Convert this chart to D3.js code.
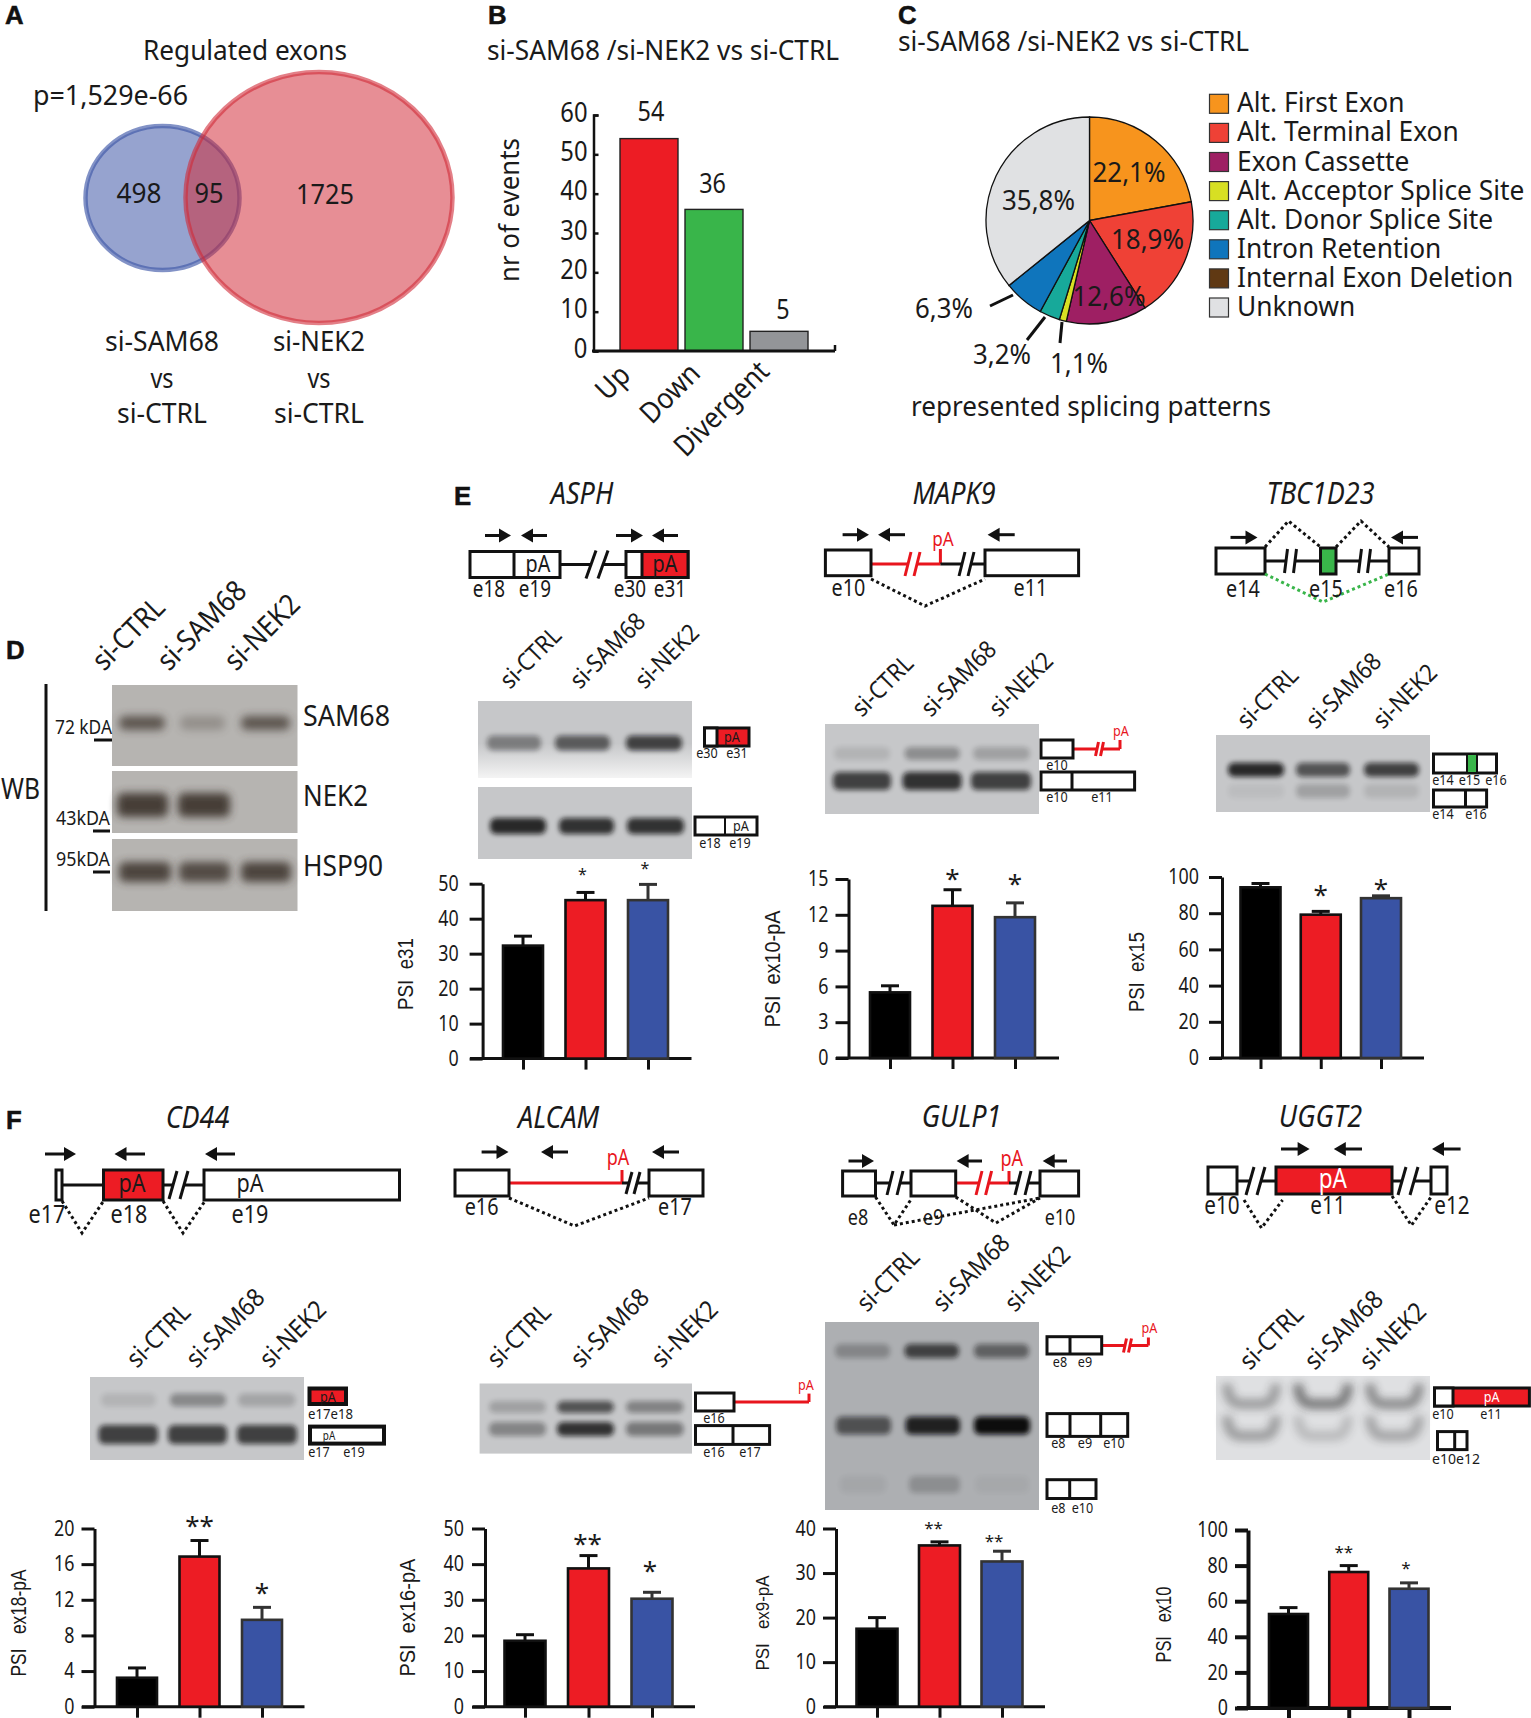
<!DOCTYPE html>
<html>
<head>
<meta charset="utf-8">
<script src="https://cdn.jsdelivr.net/npm/d3@7"></script>
<style>
  html, body { margin: 0; padding: 0; background: #fff; }
  svg { display: block; }
</style>
</head>
<body>
<svg id="fig" width="1531" height="1718"></svg>
<script>
// panel B
const eventCats = ['Up', 'Down', 'Divergent'];
const eventVals = [54, 36, 5];

// panel C
const patternNames = ['Alt. First Exon', 'Alt. Terminal Exon', 'Exon Cassette', 'Alt. Acceptor Splice Site',
  'Alt. Donor Splice Site', 'Intron Retention', 'Internal Exon Deletion', 'Unknown'];
const patternVals = [22.1, 18.9, 12.6, 1.1, 3.2, 6.3, 0, 35.8];
const patternCols = ['#f7941d', '#ef4136', '#9e1f63', '#d7df23', '#17a99a', '#0f75bc', '#603913', '#e0e1e3'];

// panel A
const vennCounts = [498, 95, 1725];

// lanes
const lanes = ['si-CTRL', 'si-SAM68', 'si-NEK2'];

// band strength per lane, 0 to 1
const wbSam68 = [0.72, 0.28, 0.72];
const wbNek2 = [0.9, 0.9];
const wbHsp90 = [0.85, 0.8, 0.85];
const asphTop = [0.4, 0.58, 0.72];
const asphLow = [0.85, 0.8, 0.8];
const mapk9Top = [0.1, 0.3, 0.2];
const mapk9Low = [0.72, 0.8, 0.72];
const tbcTop = [0.85, 0.62, 0.72];
const tbcLow = [0.05, 0.2, 0.1];
const cd44Top = [0.1, 0.33, 0.18];
const cd44Low = [0.72, 0.72, 0.72];
const alcamTop = [0.2, 0.62, 0.36];
const alcamLow = [0.35, 0.8, 0.42];
const gulpTop = [0.25, 0.68, 0.48];
const gulpMid = [0.58, 0.88, 1];
const gulpLow = [0.05, 0.2, 0.04];
const ugTop = [0.36, 0.55, 0.45];
const ugLow = [0.36, 0.2, 0.32];

// PSI bars, value and top of the error bar
const psiAsph = [32.3, 45.3, 45.3];
const errAsph = [35, 47.5, 49.8];
const psiMapk9 = [5.5, 12.75, 11.8];
const errMapk9 = [6.05, 14.1, 13];
const psiTbc = [94.3, 79.2, 88.3];
const errTbc = [96.4, 81, 89.6];
const psiCd44 = [3.25, 16.85, 9.75];
const errCd44 = [4.35, 18.65, 11.15];
const psiAlcam = [18.5, 38.8, 30.3];
const errAlcam = [20.2, 42.4, 32.1];
const psiGulp = [17.5, 36.2, 32.6];
const errGulp = [20, 37, 34.9];
const psiUggt = [52.8, 76.4, 67];
const errUggt = [56.4, 80, 70.3];

const svg = d3.select('#fig');
const FONT = '"Noto Sans", sans-serif';
const RED = '#ed1c24', BLUE = '#3953a4', GREEN = '#39b54a';
const TALL = 1.08; // figure font is taller and narrower than anything installed

const defs = svg.append('defs');
defs.append('filter').attr('id', 'soft').attr('x', '-20%').attr('y', '-80%').attr('width', '140%').attr('height', '260%')
  .append('feGaussianBlur').attr('stdDeviation', 2.8);
defs.append('filter').attr('id', 'softer').attr('x', '-30%').attr('y', '-100%').attr('width', '160%').attr('height', '300%')
  .append('feGaussianBlur').attr('stdDeviation', 4);
const fade = defs.append('linearGradient').attr('id', 'fade').attr('x1', 0).attr('x2', 0).attr('y1', 0).attr('y2', 1);
fade.append('stop').attr('offset', '55%').attr('stop-color', '#c6c7c9');
fade.append('stop').attr('offset', '100%').attr('stop-color', '#f4f4f4');

function txt(x, y, s, size, o = {}) {
  const t = svg.append('text')
    .attr('transform', `translate(${x},${o.raw ? y : y + 1})` + (o.rot ? ` rotate(${o.rot})` : ''))
    .attr('text-anchor', o.anchor || 'middle')
    .attr('font-family', o.font || FONT)
    .attr('font-size', o.raw ? size : size * TALL)
    .attr('font-style', o.italic ? 'italic' : null)
    .attr('font-weight', o.bold ? 'bold' : null)
    .attr('fill', o.fill || '#1a1a1a')
    .text(s);
  const len = t.node().getComputedTextLength();
  const sq = o.squeeze || 0.9;
  t.attr('textLength', o.w || len * (o.raw ? sq : sq / TALL)).attr('lengthAdjust', 'spacingAndGlyphs');
  return t;
}
const panel = (x, y, s) => txt(x, y, s, 25, { anchor: 'start', bold: true, font: '"Liberation Sans"', fill: '#111', raw: true, squeeze: 1.03 })
  .attr('stroke', '#111').attr('stroke-width', 0.5);
const title = (x, y, s) => txt(x, y, s, 30, { italic: true, raw: true, squeeze: 0.9 });
const seg = (x0, y0, x1, y1, col = '#111', w = 3) => svg.append('line')
  .attr('x1', x0).attr('y1', y0).attr('x2', x1).attr('y2', y1).attr('stroke', col).attr('stroke-width', w);
const box = (x0, y0, x1, y1, fill = '#fff', w = 3) => svg.append('rect')
  .attr('x', x0).attr('y', y0).attr('width', x1 - x0).attr('height', y1 - y0)
  .attr('fill', fill).attr('stroke', '#111').attr('stroke-width', w);
const dots = (pts, col = '#111') => svg.append('path')
  .attr('d', d3.line()(pts)).attr('fill', 'none').attr('stroke', col)
  .attr('stroke-width', 3).attr('stroke-dasharray', '3 3');

function arrow(x0, x1, y) { // x0 tail, x1 head
  const d = x1 > x0 ? 1 : -1;
  seg(x0, y, x1 - d * 8, y, '#111', 3);
  svg.append('path').attr('d', `M${x1},${y}L${x1 - d * 12},${y - 7}L${x1 - d * 12},${y + 7}Z`).attr('fill', '#111');
}
function brk(x0, x1, y, col = '#111', h = 13, w = 3, lean = 3) { // cut in an intron line
  seg(x0, y, x1, y, '#fff', w + 2);
  seg(x0 - lean, y + h, x0 + lean, y - h, col, w);
  seg(x1 - lean, y + h, x1 + lean, y - h, col, w);
}
function lanesText(xs, y, size) {
  lanes.forEach((l, i) => txt(xs[i], y, l, size, { anchor: 'start', rot: -45, raw: true }));
}
function gel(x0, y0, x1, y1, bg = '#c6c7c9') {
  svg.append('rect').attr('x', x0).attr('y', y0).attr('width', x1 - x0).attr('height', y1 - y0).attr('fill', bg);
}
function bands(spans, yc, th, vals, col = '#0c0c10', blur = 'soft') {
  svg.append('g').selectAll('rect').data(vals).join('rect')
    .attr('x', (d, i) => spans[i][0]).attr('width', (d, i) => spans[i][1] - spans[i][0])
    .attr('y', yc - th / 2).attr('height', th).attr('rx', 6)
    .attr('fill', col).attr('opacity', d => d).attr('filter', `url(#${blur})`);
}
function smile(spans, yc, vals) { // UGGT2 bands curve upward at the edges
  svg.append('g').selectAll('path').data(vals).join('path')
    .attr('d', (d, i) => {
      const [a, b] = spans[i];
      return `M${a},${yc - 20}Q${a + 1},${yc} ${a + 14},${yc}L${b - 14},${yc}Q${b - 1},${yc} ${b},${yc - 20}`;
    })
    .attr('fill', 'none').attr('stroke', '#222').attr('stroke-width', 10)
    .attr('opacity', d => d).attr('filter', 'url(#softer)');
}

function psiChart(c) {
  const y = d3.scaleLinear().domain([0, c.max]).range([c.base, c.top]);
  const x = d3.scalePoint().domain(lanes).range([c.cs[0], c.cs[2]]);
  const lw = c.lw || 3;
  const colors = ['#000', RED, BLUE];

  const gy = svg.append('g').attr('transform', `translate(${c.ax},0)`)
    .call(d3.axisLeft(y).tickValues(c.ticks).tickSize(13).tickPadding(c.pad || 7).tickSizeOuter(0));
  gy.selectAll('line,path').attr('stroke', '#111').attr('stroke-width', lw);
  gy.selectAll('text').attr('font-family', FONT).attr('font-size', 21).attr('fill', '#1a1a1a')
    .each(function () {
      d3.select(this).attr('textLength', this.getComputedTextLength() * 0.85).attr('lengthAdjust', 'spacingAndGlyphs');
    });

  const gx = svg.append('g').attr('transform', `translate(0,${c.base})`)
    .call(d3.axisBottom(x).tickSize(11).tickFormat(''));
  gx.select('.domain').remove();
  gx.selectAll('line').attr('stroke', '#111').attr('stroke-width', lw);
  seg(c.xa, c.base, c.xb, c.base, '#111', lw);

  // error bars first, the bar covers the lower half
  lanes.forEach((l, i) => {
    const col = i === 2 ? '#333' : '#111';
    seg(x(l), y(c.err[i]), x(l), y(c.vals[i]), col, 3);
    seg(x(l) - 9, y(c.err[i]), x(l) + 9, y(c.err[i]), col, 3);
  });
  svg.append('g').selectAll('rect').data(c.vals).join('rect')
    .attr('x', (d, i) => x(lanes[i]) - c.bw / 2).attr('width', c.bw)
    .attr('y', d => y(d)).attr('height', d => c.base - y(d))
    .attr('fill', (d, i) => colors[i]).attr('stroke', (d, i) => i === 2 ? '#333' : '#111').attr('stroke-width', 2.6);

  (c.stars || []).forEach(s => txt(x(lanes[s[0]]) + (s[4] || 0), s[2] + s[3] * 0.42, s[1], s[3], { squeeze: 1, raw: true }));
  txt(c.lx, c.ly, c.label, c.ls || 22, { rot: -90, w: c.lw2, font: '"Liberation Sans"', raw: true });
}

/* ---------- A ---------- */
panel(5, 24, 'A');
txt(245, 59, 'Regulated exons', 26, { w: 204 });
txt(33, 104, 'p=1,529e-66', 26, { anchor: 'start', w: 155 });
svg.append('ellipse').attr('cx', 162.5).attr('cy', 198).attr('rx', 77).attr('ry', 72)
  .attr('fill', '#3f57a8').attr('fill-opacity', 0.55).attr('stroke', '#3f57a8').attr('stroke-opacity', 0.65).attr('stroke-width', 4.5);
svg.append('ellipse').attr('cx', 319).attr('cy', 197.5).attr('rx', 133.5).attr('ry', 125.5)
  .attr('fill', '#d12a37').attr('fill-opacity', 0.53).attr('stroke', '#d12a37').attr('stroke-opacity', 0.6).attr('stroke-width', 4.5);
txt(139, 202, vennCounts[0], 26, { w: 45 });
txt(209, 202, vennCounts[1], 26, { w: 29 });
txt(325, 203, vennCounts[2], 26, { w: 58 });
[[162, 'si-SAM68'], [319, 'si-NEK2']].forEach(([x, s]) => {
  txt(x, 350, s, 26, { w: x < 200 ? 114 : 92 });
  txt(x, 387, 'vs', 26);
  txt(x, 422, 'si-CTRL', 26, { w: 90 });
});

/* ---------- B ---------- */
panel(488, 24, 'B');
txt(487, 59, 'si-SAM68 /si-NEK2 vs si-CTRL', 26, { anchor: 'start', w: 352 });
{
  const y = d3.scaleLinear().domain([0, 60]).range([351, 115]);
  const x = d3.scaleBand().domain(eventCats).range([620, 808]).paddingInner(0.108);
  const gy = svg.append('g').attr('transform', 'translate(593.5,0)')
    .call(d3.axisLeft(y).ticks(6).tickSizeOuter(0).tickSize(-5).tickPadding(6));
  gy.selectAll('path,line').attr('stroke', '#111').attr('stroke-width', 2.5);
  gy.selectAll('text').attr('font-family', FONT).attr('font-size', 28).attr('fill', '#1a1a1a').attr('dy', '0.22em')
    .each(function () { d3.select(this).attr('textLength', this.getComputedTextLength() * 0.85).attr('lengthAdjust', 'spacingAndGlyphs'); });
  svg.append('g').selectAll('rect').data(eventVals).join('rect')
    .attr('x', (d, i) => x(eventCats[i])).attr('width', x.bandwidth())
    .attr('y', d => y(d)).attr('height', d => 351 - y(d))
    .attr('fill', (d, i) => [RED, GREEN, '#939598'][i]).attr('stroke', '#222').attr('stroke-width', 1.4);
  seg(592, 351, 835, 351, '#111', 3);
  seg(835, 351, 835, 345, '#111', 2.5);
  const over = [18.6, 17, 13];
  eventVals.forEach((v, i) => txt(x(eventCats[i]) + [31, 27.5, 33][i], y(v) - over[i], v, 26));
  txt(519, 210, 'nr of events', 28, { rot: -90, w: 144, raw: true });
  [[632, 377], [702, 375], [771, 373]].forEach(([tx, ty], i) => txt(tx, ty, eventCats[i], 29, { anchor: 'end', rot: -45, raw: true }));
}

/* ---------- C ---------- */
panel(898, 24, 'C');
txt(898, 50, 'si-SAM68 /si-NEK2 vs si-CTRL', 26, { anchor: 'start', w: 351 });
{
  const arcs = d3.pie().sort(null)(patternVals);
  const arc = d3.arc().innerRadius(0).outerRadius(103.5);
  svg.append('g').attr('transform', 'translate(1089.5,220.5)').selectAll('path').data(arcs).join('path')
    .attr('d', arc).attr('fill', (d, i) => patternCols[i]).attr('stroke', '#111').attr('stroke-width', 1.3);
  txt(1129, 181, '22,1%', 26, { w: 73 });
  txt(1147.5, 248, '18,9%', 26, { w: 73 });
  txt(1109, 305, '12,6%', 26, { w: 73 });
  txt(1038.5, 209, '35,8%', 26, { w: 73 });
  txt(944, 317, '6,3%', 26, { w: 58 });
  txt(1002, 363, '3,2%', 26, { w: 58 });
  txt(1079, 372, '1,1%', 26, { w: 58 });
  seg(990, 306, 1013, 295);
  seg(1027, 340, 1045, 317);
  seg(1060, 343, 1062, 322);
  const ly = d3.scaleBand().domain(patternNames).range([94.3, 94.3 + 29.1 * 8]);
  svg.append('g').selectAll('rect').data(patternNames).join('rect')
    .attr('x', 1209.5).attr('y', d => ly(d)).attr('width', 19).attr('height', 19)
    .attr('fill', (d, i) => patternCols[i]).attr('stroke', '#333').attr('stroke-width', 1.2);
  patternNames.forEach(n => txt(1237, ly(n) + 18, n, 28, { anchor: 'start', squeeze: 0.94, raw: true }));
  txt(911, 415, 'represented splicing patterns', 26, { anchor: 'start', w: 360 });
}

/* ---------- D ---------- */
panel(6, 659, 'D');
lanesText([104, 169, 236], 672, 29);
seg(46, 684, 46, 911, '#111', 3);
txt(1, 798, 'WB', 27, { anchor: 'start', w: 39 });
const WB = '#b6b4b1', WBINK = '#3a302c';
gel(112, 685, 297.5, 766, WB);
gel(112, 771, 297.5, 833, WB);
gel(112, 839, 297.5, 911, WB);
bands([[119, 165], [180, 225], [241, 290]], 723, 14, wbSam68, WBINK, 'softer');
bands([[117, 168], [178, 230]], 805, 24, wbNek2, WBINK, 'softer');
bands([[119, 171], [179, 230], [241, 291]], 872, 20, wbHsp90, WBINK, 'softer');
txt(55, 733, '72 kDA', 18, { anchor: 'start', w: 57 });
txt(56, 824, '43kDA', 18, { anchor: 'start', w: 54 });
txt(56, 865, '95kDA', 18, { anchor: 'start', w: 54 });
seg(94, 740, 112, 740); seg(93, 831, 110, 831); seg(93, 872, 110, 872);
txt(303, 725, 'SAM68', 27, { anchor: 'start', w: 87 });
txt(303, 805, 'NEK2', 27, { anchor: 'start', w: 65 });
txt(303, 875, 'HSP90', 27, { anchor: 'start', w: 80 });

/* ---------- E, ASPH ---------- */
panel(454, 505, 'E');
title(582, 504, 'ASPH');
arrow(485, 511, 535.5); arrow(547, 521, 535.5); arrow(616, 643, 535.5); arrow(678, 652, 535.5);
seg(560, 564.5, 626, 564.5);
brk(591, 603, 564.5, '#111', 14, 3, 5);
box(470, 551.5, 560, 577.5);
seg(514, 551.5, 514, 577.5);
box(626, 551.5, 688, 577.5);
box(642, 551.5, 688, 577.5, RED);
txt(538, 571, 'pA', 22); txt(665, 571, 'pA', 22);
[[489, 'e18'], [535, 'e19'], [630, 'e30'], [670, 'e31']].forEach(([x, s]) => txt(x, 596, s, 21));
lanesText([510, 580, 645], 690, 24.5);
gel(478, 701, 692, 778, 'url(#fade)');
bands([[487, 541], [555, 610], [626, 682]], 743, 15, asphTop);
gel(478, 787, 692, 859);
bands([[490, 546], [559, 614], [627, 684]], 826, 16, asphLow);
box(704.5, 728, 749, 746, RED);
box(704.5, 728, 717, 746);
txt(732, 741, 'pA', 14);
txt(707, 757, 'e30', 14); txt(737, 757, 'e31', 14);
box(695, 817, 757, 835);
seg(725, 817, 725, 835, '#111', 2);
txt(741, 830, 'pA', 14);
txt(710, 847, 'e18', 14); txt(740, 847, 'e19', 14);
psiChart({ ax: 482.6, top: 883.7, base: 1058.6, max: 50, ticks: [0, 10, 20, 30, 40, 50], xa: 470, xb: 691.5, pad: 11,
  cs: [523, 585.6, 648], bw: 40, vals: psiAsph, err: errAsph, stars: [[1, '*', 873, 16, -3], [2, '*', 867, 16, -3]],
  label: 'PSI\u00a0\u00a0e31', lx: 413, ly: 974, lw2: 72 });

/* ---------- E, MAPK9 ---------- */
title(954, 504, 'MAPK9');
arrow(842.6, 869, 534.7); arrow(905, 878, 534.7); arrow(1014.7, 987.6, 534.7);
seg(871, 564, 940.4, 564, '#e8151d');
brk(908, 917, 564, '#e8151d', 12);
seg(940.4, 564, 940.4, 549, '#e8151d');
txt(943, 545, 'pA', 19, { fill: '#e8151d' });
seg(940.4, 564, 985, 564);
brk(962, 971, 564, '#111', 12);
box(825.4, 550, 871, 575.7);
box(985, 550, 1078.6, 575.7);
dots([[871, 579], [925, 606], [985, 579]]);
txt(848.5, 595, 'e10', 22); txt(1030.4, 595, 'e11', 22);
lanesText([862, 931, 999], 718, 24.5);
gel(825, 724, 1039, 814);
bands([[834, 890], [904.5, 960], [973, 1030]], 753.6, 13, mapk9Top);
bands([[833, 891], [902.5, 961.6], [971, 1031]], 781, 18, mapk9Low);
seg(1073, 749, 1120, 749, '#e8151d');
brk(1097, 1102, 749, '#e8151d', 7, 3, 1.5);
seg(1120, 749, 1120, 740, '#e8151d');
txt(1121, 735, 'pA', 14, { fill: '#e8151d' });
box(1041, 740, 1073, 758);
box(1041, 772, 1134.6, 790);
seg(1072, 772, 1072, 790);
txt(1057, 769, 'e10', 14); txt(1057, 801, 'e10', 14); txt(1102, 801, 'e11', 14);
psiChart({ ax: 848.5, top: 879, base: 1058, max: 15, ticks: [0, 3, 6, 9, 12, 15], xa: 836, xb: 1059,
  cs: [890, 952, 1015], bw: 40, vals: psiMapk9, err: errMapk9, stars: [[1, '*', 877, 26], [2, '*', 882, 26]],
  label: 'PSI\u00a0\u00a0ex10-pA', lx: 780, ly: 969, lw2: 117, ls: 22 });

/* ---------- E, TBC1D23 ---------- */
title(1320.5, 504, 'TBC1D23');
arrow(1230.5, 1257.5, 537.4); arrow(1418, 1391, 537.4);
seg(1265, 561, 1389, 561);
brk(1286, 1295, 561, '#111', 12, 3, 1.5); brk(1360, 1369, 561, '#111', 12, 3, 1.5);
box(1216, 548, 1265, 574);
box(1320.5, 548, 1336, 574, GREEN);
box(1389, 548, 1419, 574);
dots([[1265, 547], [1288.5, 521], [1320.5, 547]]);
dots([[1336, 547], [1361, 521], [1389, 547]]);
dots([[1265, 574], [1323, 602], [1389, 574]], GREEN);
txt(1243, 596, 'e14', 22); txt(1326, 596, 'e15', 22); txt(1401, 596, 'e16', 22);
lanesText([1247, 1316, 1383], 730, 24.5);
gel(1216, 735, 1430, 812);
bands([[1228, 1284], [1296, 1350], [1364, 1419]], 769.7, 14, tbcTop);
bands([[1228, 1284], [1296, 1350], [1364, 1419]], 791, 14, tbcLow);
box(1433.5, 754, 1496.5, 773);
box(1467, 754, 1477, 773, GREEN, 2);
txt(1443, 784, 'e14', 14); txt(1469.5, 784, 'e15', 14); txt(1496, 784, 'e16', 14);
box(1433.5, 790, 1486.6, 807);
seg(1465.5, 790, 1465.5, 807);
txt(1443, 818, 'e14', 14); txt(1476, 818, 'e16', 14);
psiChart({ ax: 1222, top: 877, base: 1058, max: 100, ticks: [0, 20, 40, 60, 80, 100], xa: 1210, xb: 1424, pad: 10,
  cs: [1260.5, 1321, 1381], bw: 40, vals: psiTbc, err: errTbc, stars: [[1, '*', 893, 26], [2, '*', 887, 26]],
  label: 'PSI\u00a0\u00a0ex15', lx: 1143.5, ly: 972, lw2: 80 });

/* ---------- F, CD44 ---------- */
panel(6, 1129, 'F');
title(197.5, 1128, 'CD44');
arrow(45, 76, 1154); arrow(145, 114.5, 1154); arrow(235, 205, 1154);
seg(62, 1185, 103.5, 1185); seg(163, 1185, 204, 1185);
brk(173, 184, 1185, '#111', 14, 3, 4);
box(56, 1170, 62, 1200);
box(103.5, 1170, 163, 1200, RED);
box(204, 1170, 399.5, 1200);
txt(132, 1191, 'pA', 24); txt(250, 1191, 'pA', 24);
dots([[62, 1201], [82, 1233], [103.5, 1201]]);
dots([[163, 1201], [183, 1233], [205, 1201]]);
txt(47, 1222, 'e17', 24); txt(129, 1222, 'e18', 24); txt(250, 1222, 'e19', 24);
lanesText([137, 196.5, 270], 1369, 25.5);
gel(90, 1377, 304, 1460);
bands([[101, 156], [170, 226], [238, 295.5]], 1400, 13, cd44Top);
bands([[98.5, 158], [168, 227], [237, 297]], 1434.4, 19, cd44Low);
box(309.5, 1388.5, 346, 1404, RED, 4);
txt(328, 1400.6, 'pA', 14);
txt(308, 1418, 'e17e18', 14, { anchor: 'start', w: 45 });
box(310, 1426.6, 384, 1443.6, '#fff', 4);
txt(329, 1438.6, 'pA', 11);
txt(319, 1456, 'e17', 14); txt(354, 1456, 'e19', 14);
psiChart({ ax: 94.5, top: 1528.5, base: 1706.7, max: 20, ticks: [0, 4, 8, 12, 16, 20], xa: 82, xb: 304.5,
  cs: [137, 199.5, 262], bw: 40, vals: psiCd44, err: errCd44, stars: [[1, '**', 1524.5, 26], [2, '*', 1590.6, 26]],
  label: 'PSI\u00a0\u00a0\u00a0ex18-pA', lx: 26, ly: 1623, lw2: 107 });

/* ---------- F, ALCAM ---------- */
title(558.7, 1128, 'ALCAM');
arrow(481.6, 508.5, 1152); arrow(568, 541, 1152); arrow(679, 652, 1152);
seg(509, 1183, 622, 1183, '#e8151d');
seg(622, 1183, 622, 1170, '#e8151d');
txt(618, 1164, 'pA', 20, { fill: '#e8151d' });
seg(622, 1183, 649, 1183);
brk(629, 637, 1183, '#111', 11);
box(455, 1170, 509, 1196);
box(649, 1170, 703, 1196);
dots([[509, 1198], [574.6, 1226], [649, 1198]]);
txt(481.6, 1214, 'e16', 22); txt(675, 1214, 'e17', 22);
lanesText([497.5, 581, 661.7], 1369, 25.5);
gel(479.6, 1383.5, 692, 1453.6);
bands([[489, 546], [557, 614], [626, 683.6]], 1407, 12, alcamTop);
bands([[489, 546], [557, 614], [626, 683.6]], 1429, 14, alcamLow);
seg(734, 1402, 809, 1402, '#e8151d');
seg(809, 1402, 809, 1393.6, '#e8151d');
txt(806, 1388.6, 'pA', 14, { fill: '#e8151d' });
box(695.5, 1393, 734, 1411);
box(695.5, 1425.6, 769.6, 1444.4);
seg(733, 1425.6, 733, 1444.4);
txt(714, 1422, 'e16', 14); txt(714, 1456, 'e16', 14); txt(750, 1456, 'e17', 14);
psiChart({ ax: 485, top: 1528.5, base: 1706.7, max: 50, ticks: [0, 10, 20, 30, 40, 50], xa: 472.6, xb: 695, pad: 8,
  cs: [525, 588, 652], bw: 41, vals: psiAlcam, err: errAlcam, stars: [[1, '**', 1542.5, 26, -1], [2, '*', 1568.6, 26, -2]],
  label: 'PSI\u00a0\u00a0ex16-pA', lx: 415, ly: 1617.6, lw2: 118 });

/* ---------- F, GULP1 ---------- */
title(961.6, 1127, 'GULP1');
arrow(848.5, 874, 1161); arrow(982, 956.6, 1161); arrow(1067, 1042.7, 1161);
seg(875.5, 1183, 911, 1183);
brk(890, 900, 1183, '#111', 12);
seg(955.7, 1183, 1009, 1183, '#e8151d');
brk(979, 988.6, 1183, '#e8151d', 12);
seg(1009, 1183, 1009, 1171, '#e8151d');
txt(1011.7, 1165, 'pA', 20, { fill: '#e8151d' });
seg(1009, 1183, 1040, 1183);
brk(1018, 1028, 1183, '#111', 12);
box(842.6, 1171, 875.5, 1196);
box(911, 1171, 955.7, 1196);
box(1040, 1171, 1078.6, 1196);
dots([[875.5, 1197], [894, 1225], [912, 1198]]);
dots([[894, 1225], [1040, 1198]]);
dots([[955.7, 1197], [996, 1223], [1040, 1198]]);
txt(858, 1224, 'e8', 20); txt(933, 1224, 'e9', 20); txt(1060, 1224, 'e10', 20);
lanesText([867, 943, 1015], 1313, 25);
gel(825, 1322, 1039, 1510, '#adafb2');
bands([[835, 890], [904.5, 959], [974, 1029]], 1351, 14, gulpTop);
bands([[836, 891], [905.5, 960], [974, 1030]], 1425.6, 18, gulpMid);
bands([[840, 886], [909, 960], [975, 1029]], 1484.5, 17, gulpLow);
seg(1101.7, 1345.5, 1148.4, 1345.5, '#e8151d');
brk(1125, 1130, 1345.5, '#e8151d', 7, 3, 1.5);
seg(1148.4, 1345.5, 1148.4, 1337.5, '#e8151d');
txt(1149.4, 1332, 'pA', 14, { fill: '#e8151d' });
box(1047, 1336.7, 1101.7, 1354);
seg(1070, 1336.7, 1070, 1354);
txt(1060, 1366, 'e8', 14); txt(1085, 1366, 'e9', 14);
box(1047, 1413.6, 1127.7, 1436.4);
seg(1070, 1413.6, 1070, 1436.4); seg(1100.7, 1413.6, 1100.7, 1436.4);
txt(1058.4, 1447, 'e8', 14); txt(1085, 1447, 'e9', 14); txt(1114, 1447, 'e10', 14);
box(1047, 1479.7, 1096, 1498.5);
seg(1069.7, 1479.7, 1069.7, 1498.5);
txt(1058.4, 1511.7, 'e8', 14); txt(1082.5, 1511.7, 'e10', 14);
psiChart({ ax: 836, top: 1528.5, base: 1706.7, max: 40, ticks: [0, 10, 20, 30, 40], xa: 824, xb: 1045,
  cs: [877, 939.5, 1002], bw: 41, vals: psiGulp, err: errGulp, stars: [[1, '**', 1526.5, 17, -6], [2, '**', 1540, 17, -8]],
  label: 'PSI\u00a0\u00a0\u00a0ex9-pA', lx: 768.6, ly: 1623, lw2: 95, ls: 18 });

/* ---------- F, UGGT2 ---------- */
title(1320.5, 1127, 'UGGT2');
arrow(1281, 1309.6, 1149); arrow(1362, 1333.8, 1149); arrow(1460.6, 1432, 1149);
seg(1237, 1181, 1276, 1181); seg(1392, 1181, 1431, 1181);
brk(1250, 1261, 1181, '#111', 14, 3, 4); brk(1402, 1414, 1181, '#111', 14, 3, 4);
box(1208, 1167, 1237, 1194);
box(1276, 1167, 1392, 1194, RED);
box(1431, 1167, 1447, 1194);
txt(1332.8, 1187, 'pA', 25, { fill: '#fff' });
dots([[1244, 1200], [1261.5, 1228], [1282.6, 1200]]);
dots([[1392, 1196], [1411.4, 1225.4], [1431, 1197]]);
txt(1222, 1213, 'e10', 23); txt(1328, 1213, 'e11', 23); txt(1452, 1213, 'e12', 23);
lanesText([1250, 1315, 1370], 1371, 25.5);
gel(1216, 1376, 1430, 1460, '#dfe0e2');
smile([[1227, 1276], [1298, 1348], [1370, 1419]], 1404, ugTop);
smile([[1227, 1276], [1298, 1348], [1370, 1419]], 1436, ugLow);
box(1434.5, 1388, 1529.4, 1406, RED);
box(1434.5, 1388, 1453, 1406);
txt(1491.6, 1400.6, 'pA', 14, { fill: '#fff' });
txt(1443, 1418, 'e10', 14); txt(1491, 1418, 'e11', 14);
box(1437.5, 1431.6, 1467, 1449.6);
seg(1454.7, 1431.6, 1454.7, 1449.6);
txt(1432, 1462.5, 'e10e12', 14, { anchor: 'start', w: 48 });
psiChart({ ax: 1248, top: 1530, base: 1708, max: 100, ticks: [0, 20, 40, 60, 80, 100], xa: 1237, xb: 1451,
  cs: [1288.5, 1348.5, 1409], bw: 39, lw: 4, vals: psiUggt, err: errUggt,
  stars: [[1, '**', 1550.5, 17, -5], [2, '*', 1566.6, 17, -3]],
  label: 'PSI\u00a0\u00a0\u00a0ex10', lx: 1170.5, ly: 1624.6, lw2: 76 });
</script>
</body>
</html>
